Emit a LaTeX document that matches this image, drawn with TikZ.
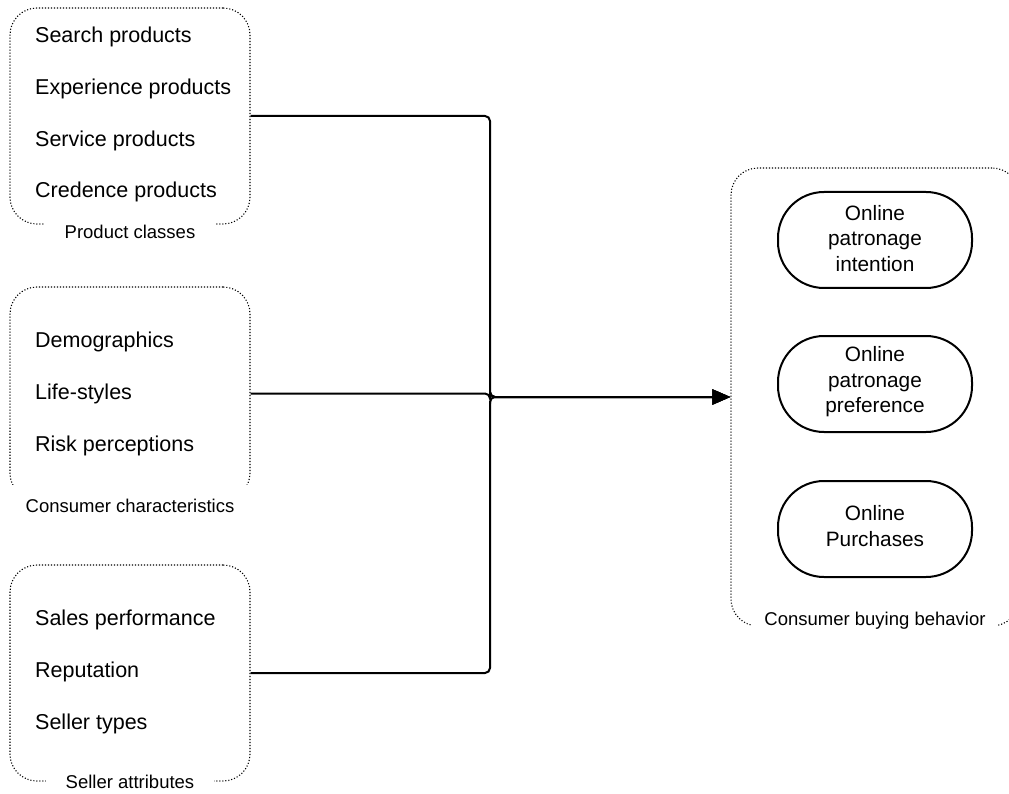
\documentclass[tikz,border=0pt]{standalone}
\usepackage{fontspec}
\setmainfont{Liberation Sans}
\usetikzlibrary{arrows.meta}
% extra depth under the last line lifts the centred text block
\newcommand{\liftby}[1]{\rule[-#1]{0pt}{0pt}}
\begin{document}
\begin{tikzpicture}[x=1pt,y=-1pt,
  group/.style={draw=black, line width=1.1pt, dash pattern=on 1.1pt off 1.9pt,
    rounded corners=27pt, inner sep=0pt},
  grouplabel/.style={fill=white, font=\fontsize{18.5}{22}\selectfont,
    inner xsep=20pt, inner ysep=3pt},
  item/.style={anchor=west, font=\fontsize{21.5}{26}\selectfont, inner sep=0pt},
  outcome/.style={draw, line width=2pt, rounded corners=46pt,
    minimum width=194pt, minimum height=96pt, align=center,
    font=\fontsize{20.8}{25.5}\selectfont},
  conn/.style={line width=2pt, rounded corners=5pt,
    -{Triangle[length=18pt,width=15pt]}}]
\useasboundingbox (0,0) rectangle (1009,794);

% input groups
\node[group, minimum width=240pt, minimum height=216pt] (pc) at (130,116) {};
\node[group, minimum width=240pt, minimum height=213pt] (cc) at (130,393.5) {};
\node[group, minimum width=240pt, minimum height=216pt] (sa) at (130,673) {};

% outcome group (its right side runs past the page edge)
\node[group, minimum width=288pt, minimum height=458pt] (cbb) at (875,397) {};

% group captions
\node[grouplabel] (pcl) at (130,232) {Product classes};
\node[grouplabel, inner ysep=14pt] (ccl) at (130,506) {Consumer characteristics};
\node[grouplabel] (sal) at (130,782) {Seller attributes};
\node[grouplabel, inner xsep=12pt, inner ysep=4pt] (cbbl) at (875,621) {Consumer buying behavior};

% product classes
\node[item] (p1) at (35,37) {Search products};
\node[item] (p2) at (35,89) {Experience products};
\node[item] (p3) at (35,141) {Service products};
\node[item] (p4) at (35,192) {Credence products};

% consumer characteristics
\node[item] (c1) at (35,342) {Demographics};
\node[item] (c2) at (35,394) {Life-styles};
\node[item] (c3) at (35,446) {Risk perceptions};

% seller attributes
\node[item] (s1) at (35,620) {Sales performance};
\node[item] (s2) at (35,672) {Reputation};
\node[item] (s3) at (35,724) {Seller types};

% buying behavior outcomes
\node[outcome] (o1) at (875,240) {Online\\patronage\\intention\liftby{4pt}};
\node[outcome] (o2) at (875,384) {Online\\patronage\\preference\liftby{8.5pt}};
\node[outcome] (o3) at (875,529) {Online\\Purchases\liftby{6.5pt}};

% connectors merging into one arrow
\coordinate (jx) at (490,0);
\draw[conn] (pc.east) -| (jx |- cbb.west) -- (cbb.west);
\draw[conn] (cc.east) -| (jx |- cbb.west) -- (cbb.west);
\draw[conn] (sa.east) -| (jx |- cbb.west) -- (cbb.west);
\end{tikzpicture}
\end{document}
